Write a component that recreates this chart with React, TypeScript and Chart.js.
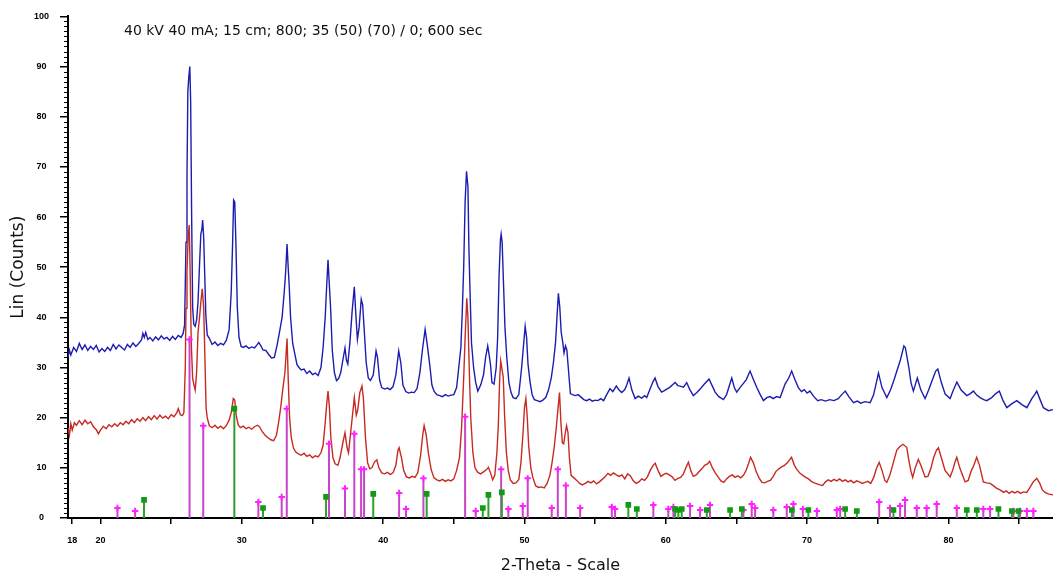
import { useEffect, useRef } from "react";
import { Chart, registerables } from "chart.js";

Chart.register(...registerables);

const FONT = "'Liberation Sans', Arial, Helvetica, sans-serif";
const TEXT_FONT = "'DejaVu Sans', Verdana, sans-serif";
const HEADER = "40 kV 40 mA; 15 cm; 800; 35 (50) (70) / 0; 600 sec";
const X_TITLE = "2-Theta - Scale";
const Y_TITLE = "Lin (Counts)";

const xRange = [17.7, 87.4];
const yRange = [0, 100];
const xTickValues = [18, 20, 25, 30, 35, 40, 45, 50, 55, 60, 65, 70, 75, 80, 85];
const xLabelValues = [18, 20, 30, 40, 50, 60, 70, 80];
const yMajorStep = 10;
const yMinorStep = 1;

// Upper scan (blue): [2-theta, counts]
const blueScan: [number, number][] = [
  [17.7, 32], [17.8, 33.5], [17.9, 32.5], [18.1, 34], [18.3, 33.2], [18.5, 34.8], [18.7, 33.6], [18.9, 34.5],
  [19.1, 33.4], [19.3, 34.2], [19.5, 33.6], [19.7, 34.4], [19.9, 33.1], [20.1, 33.8], [20.3, 33.2], [20.5, 34.0],
  [20.7, 33.4], [20.9, 34.6], [21.1, 33.7], [21.3, 34.5], [21.5, 34.0], [21.7, 33.5], [21.9, 34.6], [22.1, 34.0],
  [22.3, 34.9], [22.5, 34.2], [22.7, 34.8], [22.9, 35.5], [23.0, 36.8], [23.1, 36.0], [23.2, 37.0], [23.35, 35.6],
  [23.5, 36.0], [23.7, 35.3], [23.9, 36.1], [24.1, 35.5], [24.3, 36.3], [24.5, 35.7], [24.7, 36.0], [24.9, 35.4],
  [25.1, 36.2], [25.3, 35.6], [25.5, 36.4], [25.7, 36.0], [25.85, 36.8], [25.95, 38.5], [26.05, 55], [26.12, 68],
  [26.18, 85], [26.25, 88], [26.32, 90], [26.38, 83], [26.45, 60], [26.52, 42], [26.6, 38.6], [26.7, 38.2],
  [26.8, 39.5], [26.9, 43], [27.0, 50], [27.1, 56.6], [27.17, 57.5], [27.23, 59.4], [27.3, 56], [27.38, 48],
  [27.45, 40.6], [27.55, 36.5], [27.7, 35.8], [27.9, 34.6], [28.1, 35.1], [28.3, 34.4], [28.5, 34.8], [28.7, 34.5],
  [28.9, 35.4], [29.1, 37.5], [29.25, 45], [29.35, 55], [29.42, 63.4], [29.5, 63], [29.58, 55], [29.68, 42],
  [29.8, 36], [29.95, 34.2], [30.1, 34.0], [30.3, 34.3], [30.5, 33.8], [30.7, 34.1], [30.9, 33.9], [31.1, 34.6],
  [31.2, 35.0], [31.35, 34.3], [31.5, 33.5], [31.7, 33.4], [31.9, 32.6], [32.1, 31.9], [32.3, 32.0], [32.5, 34.5],
  [32.65, 36.8], [32.85, 40], [33.0, 45], [33.1, 49], [33.2, 54.6], [33.28, 50], [33.35, 46.5], [33.45, 40],
  [33.6, 34.8], [33.75, 32.7], [33.9, 30.6], [34.05, 30.0], [34.2, 29.5], [34.4, 29.7], [34.6, 28.8], [34.8, 29.3],
  [35.0, 28.6], [35.2, 28.9], [35.4, 28.4], [35.6, 30], [35.75, 33.9], [35.9, 40], [36.0, 46], [36.1, 51.5],
  [36.18, 47.1], [36.28, 42], [36.4, 33.5], [36.55, 29], [36.7, 27.4], [36.85, 27.8], [37.0, 29], [37.15, 31.5],
  [37.3, 33.9], [37.4, 31.5], [37.5, 30.7], [37.65, 35], [37.8, 41], [37.96, 46.1], [38.08, 40], [38.18, 35.6],
  [38.3, 38], [38.45, 43.6], [38.55, 42.5], [38.65, 38], [38.8, 31], [38.95, 27.9], [39.1, 27.4], [39.3, 28.5],
  [39.5, 33.3], [39.6, 32], [39.75, 27.5], [39.9, 26], [40.1, 25.7], [40.3, 25.9], [40.5, 25.6], [40.7, 26.2],
  [40.9, 28.5], [41.1, 33.3], [41.25, 31], [41.4, 26.5], [41.6, 25.2], [41.8, 24.9], [42.0, 25.1], [42.2, 25.0],
  [42.4, 25.8], [42.6, 29], [42.8, 34], [42.97, 37.6], [43.1, 35], [43.3, 30.5], [43.45, 26.5], [43.6, 25.3],
  [43.8, 24.6], [44.0, 24.4], [44.2, 24.2], [44.4, 24.6], [44.6, 24.3], [44.8, 24.5], [45.0, 24.6], [45.2, 26],
  [45.35, 30], [45.5, 34], [45.6, 41.2], [45.7, 50], [45.8, 63], [45.9, 69.1], [46.0, 66], [46.07, 53.7],
  [46.15, 45], [46.25, 35], [46.4, 30], [46.55, 27], [46.7, 25.3], [46.9, 26.5], [47.1, 28.5], [47.25, 32],
  [47.4, 34.3], [47.5, 32.5], [47.6, 30.5], [47.7, 27], [47.85, 26.7], [48.0, 30], [48.1, 35.8], [48.2, 48],
  [48.3, 55.5], [48.35, 56.6], [48.42, 55], [48.52, 46.5], [48.62, 38], [48.75, 32], [48.9, 27], [49.05, 25],
  [49.2, 24], [49.4, 23.8], [49.6, 24.6], [49.8, 30], [49.95, 35], [50.05, 38.2], [50.15, 36], [50.25, 30.7],
  [50.4, 27], [50.55, 24.5], [50.7, 23.6], [50.9, 23.4], [51.1, 23.2], [51.3, 23.5], [51.5, 24], [51.7, 25.5],
  [51.9, 28], [52.05, 31], [52.2, 35], [52.3, 40], [52.4, 44.8], [52.5, 42], [52.6, 37], [52.7, 35.2],
  [52.8, 32.9], [52.9, 34.3], [53.0, 33.5], [53.1, 30], [53.25, 24.8], [53.4, 24.6], [53.6, 24.4], [53.8, 24.6],
  [54.0, 24.1], [54.2, 23.6], [54.4, 23.4], [54.6, 23.7], [54.8, 23.3], [55.0, 23.5], [55.2, 23.4], [55.4, 23.8],
  [55.6, 23.4], [55.8, 24.5], [56.05, 25.8], [56.25, 25.2], [56.5, 26.3], [56.7, 25.5], [56.88, 25.0], [57.1, 25.6],
  [57.25, 26.6], [57.4, 27.9], [57.6, 25.5], [57.83, 23.8], [58.05, 24.3], [58.3, 23.9], [58.5, 24.4], [58.65, 24.0],
  [58.9, 25.8], [59.1, 27.2], [59.24, 27.9], [59.45, 26.2], [59.71, 25.1], [59.9, 25.4], [60.07, 25.7], [60.3, 26.1],
  [60.5, 26.6], [60.66, 27.0], [60.85, 26.4], [61.01, 26.3], [61.25, 26.1], [61.48, 27.0], [61.7, 25.6], [61.95, 24.4],
  [62.2, 25.0], [62.43, 25.7], [62.7, 26.6], [62.9, 27.2], [63.06, 27.7], [63.28, 26.4], [63.49, 25.1], [63.75, 24.2],
  [64.08, 23.6], [64.3, 24.6], [64.5, 26.4], [64.67, 27.9], [64.85, 26.0], [65.02, 25.1], [65.25, 26.0], [65.45, 26.7],
  [65.7, 27.6], [65.96, 29.3], [66.2, 27.6], [66.44, 26.0], [66.7, 24.5], [66.91, 23.4], [67.15, 24.0], [67.38, 24.2],
  [67.6, 23.8], [67.85, 24.2], [68.09, 24.0], [68.25, 25.2], [68.44, 26.7], [68.7, 27.9], [68.91, 29.3], [69.15, 27.5],
  [69.38, 26.0], [69.6, 25.2], [69.8, 25.6], [70.0, 24.9], [70.2, 25.3], [70.45, 24.3], [70.75, 23.4], [71.0, 23.6],
  [71.3, 23.3], [71.6, 23.6], [71.9, 23.4], [72.2, 23.8], [72.45, 24.6], [72.7, 25.3], [72.95, 24.2], [73.28, 23.0],
  [73.55, 23.3], [73.8, 22.9], [74.1, 23.2], [74.46, 23.0], [74.7, 24.5], [74.9, 27.0], [75.05, 28.9], [75.3, 26.0],
  [75.64, 24.0], [75.9, 25.5], [76.15, 27.5], [76.35, 29.3], [76.6, 31.5], [76.85, 34.3], [76.95, 34.0], [77.2, 30.0],
  [77.35, 27.0], [77.52, 25.3], [77.8, 27.9], [78.05, 25.5], [78.35, 23.8], [78.6, 25.5], [78.9, 27.8], [79.1, 29.3],
  [79.25, 29.7], [79.5, 27.0], [79.77, 24.7], [80.12, 23.8], [80.35, 25.5], [80.6, 27.1], [80.9, 25.5], [81.3, 24.4],
  [81.55, 24.8], [81.77, 25.3], [82.0, 24.5], [82.24, 24.0], [82.5, 23.6], [82.71, 23.4], [83.06, 24.0], [83.35, 24.8],
  [83.6, 25.3], [83.85, 23.5], [84.13, 22.0], [84.5, 22.8], [84.84, 23.4], [85.2, 22.6], [85.55, 22.0], [85.9, 23.8],
  [86.1, 24.6], [86.25, 25.3], [86.5, 23.5], [86.72, 22.0], [87.07, 21.4], [87.4, 21.6],
];

// Lower scan (red): [2-theta, counts]
const redScan: [number, number][] = [
  [17.7, 18], [17.8, 16.5], [17.9, 18.8], [18.0, 17.5], [18.15, 19], [18.3, 18.5], [18.5, 19.4], [18.7, 18.6],
  [18.9, 19.5], [19.1, 18.8], [19.3, 19.2], [19.5, 18.2], [19.7, 17.6], [19.85, 16.8], [20.0, 17.5], [20.2, 18.3],
  [20.4, 17.8], [20.6, 18.6], [20.8, 18.2], [21.0, 18.8], [21.2, 18.3], [21.4, 19.0], [21.6, 18.6], [21.8, 19.3],
  [22.0, 18.8], [22.2, 19.6], [22.4, 19.0], [22.6, 19.8], [22.8, 19.3], [23.0, 20], [23.2, 19.4], [23.4, 20.2],
  [23.6, 19.6], [23.8, 20.4], [24.0, 19.7], [24.2, 20.5], [24.4, 19.9], [24.6, 20.3], [24.8, 19.8], [25.0, 20.6],
  [25.2, 20.2], [25.4, 21.0], [25.5, 21.8], [25.65, 20.6], [25.8, 20.4], [25.9, 21], [26.0, 30], [26.05, 41.8],
  [26.12, 49.1], [26.2, 56], [26.28, 58.4], [26.35, 48], [26.42, 35], [26.52, 27.9], [26.6, 26.7], [26.7, 25.5],
  [26.8, 29], [26.9, 37], [27.0, 39.8], [27.1, 43], [27.2, 45.7], [27.3, 42], [27.38, 33], [27.47, 22],
  [27.55, 20], [27.7, 18.4], [27.9, 18.0], [28.1, 18.5], [28.3, 17.9], [28.5, 18.3], [28.7, 17.8], [28.9, 18.4],
  [29.1, 19.5], [29.25, 21], [29.4, 23.8], [29.5, 23.5], [29.6, 20.5], [29.75, 18.5], [29.9, 18.0], [30.1, 18.3],
  [30.3, 17.8], [30.5, 18.1], [30.7, 17.7], [30.9, 18.2], [31.1, 18.5], [31.25, 18.2], [31.45, 17.2], [31.65, 16.5],
  [31.85, 16.0], [32.05, 15.6], [32.25, 15.4], [32.45, 16.5], [32.6, 19], [32.75, 22], [32.9, 25.7], [33.05, 29],
  [33.2, 35.8], [33.28, 28], [33.38, 20], [33.5, 16], [33.65, 14], [33.8, 13.2], [34.0, 12.8], [34.2, 12.5],
  [34.4, 12.9], [34.6, 12.3], [34.8, 12.6], [35.0, 12.0], [35.2, 12.4], [35.4, 12.2], [35.6, 13], [35.75, 14.5],
  [35.9, 19], [36.0, 22.5], [36.1, 25.3], [36.2, 22], [36.3, 16], [36.45, 12], [36.6, 10.8], [36.8, 10.5],
  [36.95, 12], [37.15, 15], [37.3, 17], [37.45, 14], [37.55, 13], [37.7, 17], [37.85, 21], [37.96, 24],
  [38.1, 20.5], [38.2, 21.5], [38.35, 25], [38.5, 26.3], [38.6, 24], [38.75, 16], [38.9, 11], [39.05, 9.8],
  [39.2, 10], [39.4, 11.2], [39.55, 11.6], [39.7, 10.0], [39.9, 9.0], [40.1, 8.8], [40.3, 9.1], [40.5, 8.7],
  [40.7, 9.0], [40.9, 10.5], [41.05, 13.5], [41.13, 14], [41.3, 12], [41.45, 9.5], [41.65, 8.2], [41.85, 8.0],
  [42.05, 8.3], [42.25, 8.1], [42.45, 9], [42.65, 12.5], [42.8, 16.5], [42.9, 18.4], [43.05, 16.5], [43.2, 13],
  [43.4, 9.6], [43.6, 8.0], [43.8, 7.6], [44.0, 7.4], [44.2, 7.7], [44.4, 7.3], [44.6, 7.6], [44.8, 7.4],
  [45.0, 7.8], [45.2, 9.5], [45.4, 12], [45.55, 18], [45.7, 27.9], [45.8, 36], [45.92, 43.8], [46.0, 40],
  [46.1, 29], [46.2, 20], [46.35, 13], [46.5, 10], [46.7, 9.1], [46.9, 8.8], [47.1, 9.2], [47.3, 9.6],
  [47.45, 10.1], [47.6, 9.0], [47.75, 7.6], [47.9, 8.5], [48.05, 13], [48.15, 18.5], [48.25, 28], [48.32, 31.3],
  [48.42, 29.5], [48.5, 28], [48.6, 20], [48.72, 13], [48.85, 9.5], [49.0, 7.6], [49.2, 6.9], [49.4, 7.0],
  [49.6, 7.7], [49.75, 11], [49.9, 17], [50.0, 22], [50.1, 23.8], [50.2, 20], [50.3, 14.3], [50.45, 10],
  [50.6, 8], [50.8, 6.4], [51.0, 6.1], [51.2, 6.2], [51.4, 6.0], [51.6, 6.9], [51.8, 8.5], [51.95, 11],
  [52.1, 14], [52.25, 18], [52.38, 22], [52.48, 25], [52.58, 19], [52.68, 15], [52.78, 14.8], [52.88, 16.8],
  [52.98, 18.4], [53.08, 17], [53.18, 12], [53.3, 8.5], [53.5, 8.0], [53.7, 7.5], [53.9, 6.9], [54.1, 6.6],
  [54.3, 6.9], [54.5, 7.3], [54.7, 7.0], [54.9, 7.4], [55.1, 6.8], [55.3, 7.2], [55.5, 7.7], [55.7, 8.2],
  [55.9, 8.9], [56.1, 8.5], [56.3, 9], [56.5, 8.6], [56.7, 8.3], [56.9, 8.6], [57.1, 7.8], [57.3, 8.8],
  [57.5, 8.4], [57.7, 7.4], [57.9, 6.9], [58.1, 7.2], [58.3, 7.8], [58.5, 7.5], [58.7, 8.2], [58.9, 9.5],
  [59.1, 10.5], [59.25, 10.9], [59.45, 9.5], [59.65, 8.3], [59.85, 8.7], [60.05, 8.9], [60.25, 8.6], [60.45, 8.2],
  [60.65, 7.5], [60.85, 7.9], [61.05, 8.1], [61.25, 8.8], [61.45, 10.2], [61.6, 11.1], [61.8, 9.2], [61.95, 8.3],
  [62.15, 8.6], [62.35, 9.2], [62.55, 9.8], [62.75, 10.5], [62.95, 10.8], [63.1, 11.3], [63.3, 10], [63.5, 9.0],
  [63.7, 8.2], [63.9, 7.4], [64.1, 7.1], [64.3, 7.8], [64.5, 8.3], [64.7, 8.6], [64.9, 8.1], [65.1, 8.4],
  [65.3, 8.0], [65.5, 8.5], [65.7, 9.6], [65.85, 10.8], [66.0, 12.1], [66.2, 11], [66.4, 9.2], [66.6, 8.0],
  [66.8, 7.1], [67.0, 7.0], [67.2, 7.3], [67.4, 7.5], [67.6, 8.3], [67.8, 9.3], [68.0, 9.8], [68.2, 10.2],
  [68.4, 10.5], [68.6, 11], [68.9, 12.1], [69.1, 10.5], [69.3, 9.6], [69.5, 8.9], [69.7, 8.5], [69.9, 8.1],
  [70.1, 7.8], [70.3, 7.3], [70.5, 7.0], [70.7, 6.8], [70.9, 6.6], [71.1, 6.5], [71.3, 7.2], [71.5, 7.6],
  [71.7, 7.3], [71.9, 7.7], [72.1, 7.4], [72.3, 7.8], [72.5, 7.3], [72.7, 7.6], [72.9, 7.2], [73.1, 7.5],
  [73.3, 7.0], [73.5, 7.4], [73.7, 7.2], [73.9, 6.9], [74.1, 7.1], [74.3, 7.3], [74.5, 6.9], [74.7, 8.0],
  [74.9, 9.8], [75.1, 11.1], [75.3, 9.5], [75.5, 7.5], [75.64, 7.1], [75.85, 8.5], [76.05, 10.5], [76.34, 13.5],
  [76.55, 14.2], [76.78, 14.7], [77.05, 14.1], [77.2, 11.5], [77.35, 9.3], [77.47, 8.1], [77.65, 10], [77.87, 11.7],
  [78.05, 10.5], [78.35, 8.2], [78.55, 8.3], [78.75, 9.8], [78.95, 12], [79.15, 13.5], [79.29, 14], [79.5, 12],
  [79.76, 9.5], [80.12, 8.2], [80.3, 9.5], [80.45, 11], [80.59, 12.1], [80.8, 10], [81.0, 8.5], [81.18, 7.2],
  [81.4, 7.5], [81.6, 9.3], [81.8, 10.5], [82.0, 12.1], [82.2, 10.5], [82.47, 7.2], [82.7, 7.0], [82.95, 6.9],
  [83.2, 6.4], [83.42, 5.9], [83.65, 5.6], [83.9, 5.1], [84.1, 5.4], [84.3, 4.9], [84.5, 5.3], [84.7, 5.0],
  [84.9, 5.3], [85.1, 4.9], [85.3, 5.2], [85.54, 5.1], [85.75, 6.0], [86.0, 7.2], [86.25, 7.9], [86.45, 7.0],
  [86.65, 5.6], [86.84, 5.1], [87.05, 4.8], [87.4, 4.6],
];

// Reference pattern A (magenta sticks)
const phaseAPositions = [
  21.2, 22.45, 26.3, 27.27, 31.17, 32.82, 33.18, 36.17, 37.3, 37.96, 38.44, 38.65, 41.13, 41.62, 42.85, 45.8,
  46.55, 48.35, 48.86, 49.88, 50.23, 51.93, 52.36, 52.93, 53.94, 56.18, 56.41, 59.12, 60.18, 60.54, 61.72, 62.43,
  63.13, 65.49, 66.08, 66.32, 67.61, 68.56, 69.03, 69.7, 70.69, 72.1, 72.34, 75.1, 75.87, 76.58, 76.93, 77.76,
  78.46, 79.17, 80.59, 82.47, 82.95, 84.6, 85.07, 85.55, 86.01,
];
const phaseAHeights = [
  2.0, 1.4, 35.6, 18.4, 3.2, 4.2, 21.8, 14.8, 5.9, 16.8, 9.7, 9.7, 5.0, 1.8, 7.9, 20.2,
  1.4, 9.7, 1.8, 2.4, 7.9, 2.0, 9.7, 6.5, 2.0, 2.2, 1.8, 2.6, 1.8, 2.2, 2.4, 1.6,
  2.6, 1.6, 2.8, 2.0, 1.6, 2.2, 2.8, 1.8, 1.4, 1.6, 1.8, 3.2, 2.0, 2.4, 3.6, 2.0,
  2.0, 2.8, 2.0, 1.8, 1.8, 1.4, 1.4, 1.4, 1.4,
];

// Reference pattern B (green sticks)
const phaseBPositions = [
  23.08, 29.47, 31.5, 35.96, 39.3, 43.08, 47.05, 47.45, 48.4, 57.35, 57.95, 60.66, 60.89, 61.13, 62.9, 64.55,
  65.38, 68.92, 70.09, 72.69, 73.52, 76.11, 81.3, 82.01, 83.54, 84.49, 84.96,
];
const phaseBHeights = [
  3.6, 21.8, 2.0, 4.2, 4.8, 4.8, 2.0, 4.6, 5.1, 2.6, 1.8, 1.8, 1.6, 1.8, 1.6, 1.6,
  1.8, 1.6, 1.6, 1.8, 1.4, 1.6, 1.6, 1.6, 1.8, 1.4, 1.4,
];

function scanData(scan: [number, number][]) {
  return scan.map(([x, y]) => ({ x, y }));
}

function stickData(pos: number[], h: number[]) {
  const out: { x: number; y: number | null }[] = [];
  pos.forEach((p, i) => {
    out.push({ x: p, y: 0 }, { x: p, y: h[i] }, { x: p, y: null });
  });
  return out;
}

const headerPlugin = {
  id: "header",
  afterDraw(chart: any) {
    const { ctx, chartArea } = chart;
    ctx.save();
    ctx.font = `14px ${TEXT_FONT}`;
    ctx.fillStyle = "#111";
    ctx.textBaseline = "middle";
    ctx.textAlign = "left";
    ctx.fillText(HEADER, chartArea.left + 56, chartArea.top + 15);
    ctx.restore();
  },
};

const minorTicksPlugin = {
  id: "minorTicks",
  afterDraw(chart: any) {
    const { ctx } = chart;
    const ys = chart.scales.y;
    ctx.save();
    ctx.strokeStyle = "#000";
    ctx.lineWidth = 1;
    for (let v = yRange[0]; v <= yRange[1]; v += yMinorStep) {
      if (v % yMajorStep === 0) continue;
      const py = Math.round(ys.getPixelForValue(v)) + 0.5;
      ctx.beginPath();
      ctx.moveTo(ys.right - 4, py);
      ctx.lineTo(ys.right, py);
      ctx.stroke();
    }
    ctx.restore();
  },
};

export default function App() {
  const ref = useRef<HTMLCanvasElement | null>(null);

  useEffect(() => {
    if (!ref.current) return;
    const chart = new Chart(ref.current, {
      type: "scatter",
      data: {
        datasets: [
          {
            label: "Pattern B",
            data: stickData(phaseBPositions, phaseBHeights),
            showLine: true,
            spanGaps: false,
            borderColor: "#2ea02e",
            borderWidth: 2,
            pointStyle: "rect",
            pointRadius: (c: any) => (c.dataIndex % 3 === 1 ? 2.6 : 0),
            pointBackgroundColor: "#139a13",
            pointBorderColor: "#139a13",
            order: 0,
          } as any,
          {
            label: "Pattern A",
            data: stickData(phaseAPositions, phaseAHeights),
            showLine: true,
            spanGaps: false,
            borderColor: "#c844c8",
            borderWidth: 2,
            pointStyle: "cross",
            pointRadius: (c: any) => (c.dataIndex % 3 === 1 ? 3.2 : 0),
            pointBorderWidth: 2,
            pointBackgroundColor: "#ff22ff",
            pointBorderColor: "#ff22ff",
            order: 1,
          } as any,
          {
            label: "Scan 2",
            data: scanData(redScan),
            showLine: true,
            borderColor: "#c62a22",
            borderWidth: 1.4,
            pointRadius: 0,
            order: 2,
          } as any,
          {
            label: "Scan 1",
            data: scanData(blueScan),
            showLine: true,
            borderColor: "#1c1cb0",
            borderWidth: 1.4,
            pointRadius: 0,
            order: 3,
          } as any,
        ],
      },
      options: {
        responsive: false,
        animation: false,
        layout: { padding: { top: 13, right: 0, left: 0, bottom: 0 } },
        plugins: { legend: { display: false }, tooltip: { enabled: false } },
        scales: {
          x: {
            type: "linear",
            min: xRange[0],
            max: xRange[1],
            afterBuildTicks: (axis: any) => {
              axis.ticks = xTickValues.map((v) => ({ value: v }));
            },
            afterFit: (axis: any) => {
              axis.height = 57;
            },
            ticks: {
              autoSkip: false,
              maxRotation: 0,
              padding: 11,
              color: "#000",
              font: { size: 9, weight: "bold", family: FONT },
              callback: (v: any) => (xLabelValues.includes(Number(v)) ? String(v) : ""),
            },
            grid: { drawOnChartArea: false, drawTicks: true, tickLength: 6, color: "#000", lineWidth: 1.5 },
            border: { display: true, color: "#000", width: 2 },
            title: {
              display: true,
              text: X_TITLE,
              color: "#111",
              font: { size: 16, family: TEXT_FONT },
              padding: { top: 0, bottom: 0 },
            },
          },
          y: {
            type: "linear",
            min: yRange[0],
            max: yRange[1],
            afterFit: (axis: any) => {
              axis.width = 68;
            },
            ticks: {
              stepSize: yMajorStep,
              crossAlign: "center",
              padding: 11,
              color: "#000",
              font: { size: 9, weight: "bold", family: FONT },
            },
            grid: { drawOnChartArea: false, drawTicks: true, tickLength: 8, color: "#000", lineWidth: 1.5 },
            border: { display: true, color: "#000", width: 2 },
            title: {
              display: true,
              text: Y_TITLE,
              color: "#111",
              font: { size: 17, family: TEXT_FONT },
              padding: { top: 8.8, bottom: 0 },
            },
          },
        },
      } as any,
      plugins: [headerPlugin, minorTicksPlugin],
    });
    return () => chart.destroy();
  }, []);

  return (
    <div style={{ position: "absolute", left: 0, top: 0, width: 1053, height: 575, background: "#fff" }}>
      <canvas ref={ref} width={1053} height={575} style={{ display: "block" }} />
    </div>
  );
}
